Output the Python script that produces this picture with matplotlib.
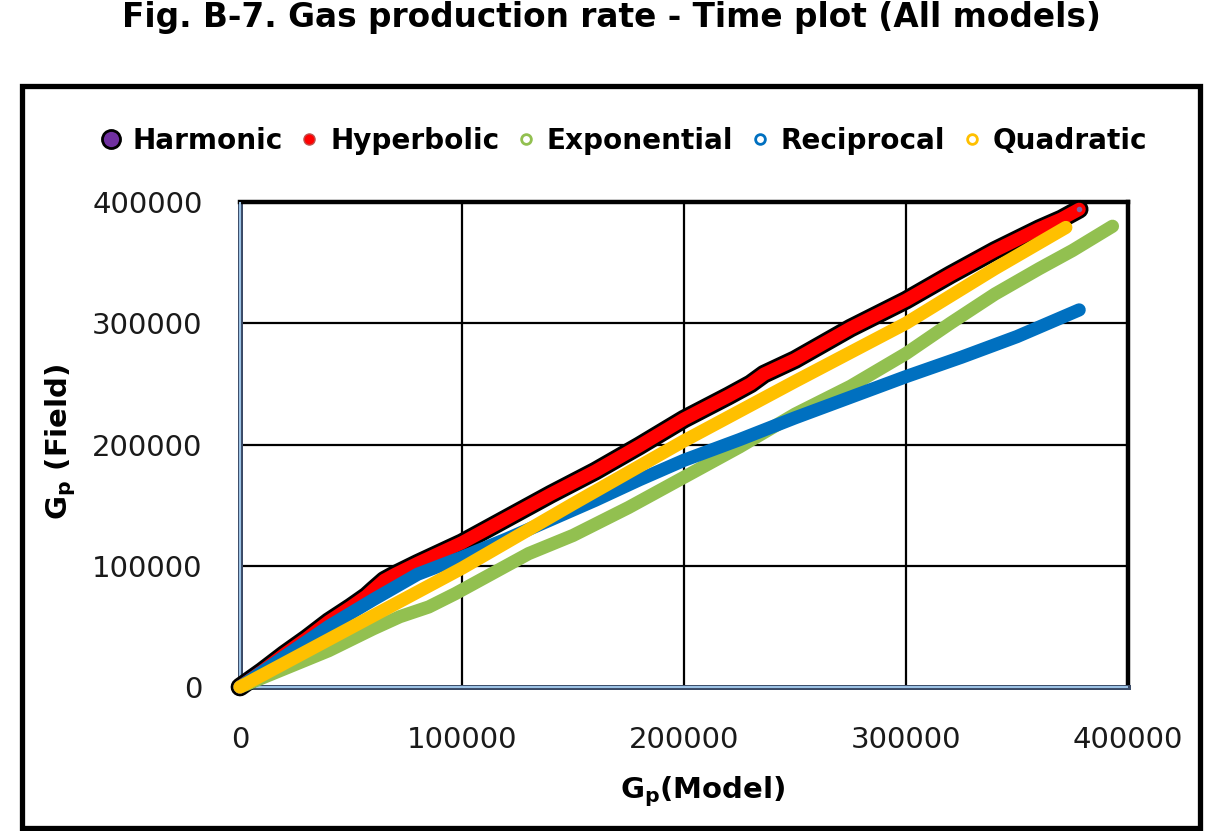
import matplotlib
matplotlib.use("Agg")
import matplotlib.pyplot as plt
from matplotlib.patches import Rectangle
from matplotlib.lines import Line2D
import numpy as np

# ---------------- data (thousands) ----------------
harm_x = [0, 10, 20, 30, 40, 50, 57, 60, 65, 70, 80, 100, 120, 140, 160, 180, 200, 220, 230, 236, 250, 275, 300, 320, 340, 350, 360, 370, 378]
harm_y = [0, 13, 27, 40, 54, 66, 75, 80, 88, 93, 102, 119, 139, 159, 178, 199, 221, 240, 250, 258, 270, 296, 319, 340, 360, 369, 378, 386, 394]
hyp_x = [0, 10, 20, 30, 40, 50, 57, 60, 65, 70, 80, 100, 120, 140, 160, 180, 200, 220, 230, 236, 250, 275, 300, 320, 340, 350, 360, 370, 378]
hyp_y = [0, 13, 27, 40, 54, 66, 75, 80, 88, 93, 102, 119, 139, 159, 178, 199, 221, 240, 250, 258, 270, 296, 319, 340, 360, 369, 378, 386, 394]
exp_x = [0, 20, 40, 60, 72, 85, 97, 110, 130, 150, 175, 200, 225, 250, 275, 300, 320, 340, 360, 375, 393]
exp_y = [0, 15, 30, 48, 58, 66, 77, 90, 110, 125, 148, 173, 198, 225, 248, 275, 300, 324, 345, 360, 380]
rec_x = [0, 20, 40, 60, 80, 100, 120, 140, 160, 180, 200, 225, 250, 275, 300, 325, 350, 378]
rec_y = [0, 25, 50, 72, 93, 107, 122, 138, 154, 171, 187, 204, 222, 239, 256, 272, 289, 311]
quad_x = [0, 50, 100, 150, 200, 250, 300, 340, 372]
quad_y = [0, 49, 98, 151, 203, 252, 300, 345, 379]

ticks = [0, 100000, 200000, 300000, 400000]
tick_labels = ["0", "100000", "200000", "300000", "400000"]
series_names = ["Harmonic", "Hyperbolic", "Exponential", "Reciprocal", "Quadratic"]

title = "Fig. B-7. Gas production rate - Time plot (All models)"

K = 1000.0
W, H = 1228, 831
fig = plt.figure(figsize=(W / 100, H / 100), dpi=100)
fig.patch.set_facecolor("white")

# outer chart box
fig.patches.append(Rectangle((22 / W, 1 - 828 / H), 1178 / W, (828 - 86) / H,
                             transform=fig.transFigure, fill=False,
                             edgecolor="black", linewidth=3.8, zorder=0))

ax = fig.add_axes([240 / W, 1 - 687 / H, 888 / W, 485 / H])
ax.set_xlim(0, 400000)
ax.set_ylim(0, 400000)
ax.set_xticks(ticks)
ax.set_yticks(ticks)
ax.set_xticklabels(tick_labels)
ax.set_yticklabels(tick_labels)
ax.tick_params(length=0, labelsize=21, pad=27)
ax.tick_params(axis="x", pad=28)
for lab in ax.get_xticklabels() + ax.get_yticklabels():
    lab.set_color("#1a1a1a")
ax.grid(True, color="black", linewidth=1.6, zorder=1)
ax.set_axisbelow(True)

for s in ["top", "right"]:
    ax.spines[s].set_linewidth(3.2)
    ax.spines[s].set_color("black")
for s in ["left", "bottom"]:
    ax.spines[s].set_linewidth(3.6)
    ax.spines[s].set_color("#3a4a66")
# light blue inner line on left/bottom axis
ax.plot([0, 0], [0, 400000], color="#9DC3E6", lw=1.5, clip_on=False, zorder=3, solid_capstyle="butt")
ax.plot([0, 400000], [0, 0], color="#9DC3E6", lw=1.5, clip_on=False, zorder=3, solid_capstyle="butt")

def arr(v):
    return np.array(v, dtype=float) * K

kw = dict(solid_capstyle="round", solid_joinstyle="round", clip_on=False)
ax.plot(arr(harm_x), arr(harm_y), color="black", lw=13.5, zorder=4, **kw)
ax.plot(arr(hyp_x), arr(hyp_y), color="#FF0000", lw=9.5, zorder=5, **kw)
ax.plot(arr(exp_x), arr(exp_y), color="#92C050", lw=9.5, zorder=4, **kw)
ax.plot(arr(rec_x), arr(rec_y), color="#0070C0", lw=9.5, zorder=6, **kw)
ax.plot(arr(quad_x), arr(quad_y), color="#FFC000", lw=9.5, zorder=7, **kw)
# marker dot at hyperbolic end
ax.plot([hyp_x[-1] * K], [hyp_y[-1] * K], "o", color="#8064A2", ms=3, zorder=8, clip_on=False)

# legend
handles = [
    Line2D([], [], ls="none", marker="o", ms=13, mfc="#7030A0", mec="black", mew=2),
    Line2D([], [], ls="none", marker="o", ms=8, mfc="#FF0000", mec="#C0504D", mew=1),
    Line2D([], [], ls="none", marker="o", ms=7, mfc="white", mec="#92C050", mew=2),
    Line2D([], [], ls="none", marker="o", ms=7, mfc="white", mec="#0070C0", mew=2),
    Line2D([], [], ls="none", marker="o", ms=7, mfc="white", mec="#FFC000", mew=2),
]
fig.legend(handles, series_names, loc="center", bbox_to_anchor=(625 / W, 1 - 141 / H),
           ncol=5, frameon=False, prop={"weight": "bold", "size": 20.1},
           handlelength=0.6, handletextpad=0.45, columnspacing=0.65, borderaxespad=0)

# title
fig.text(612 / W, 1 - 27 / H, title, ha="center", va="baseline",
         fontsize=23.6, fontweight="bold", color="black")

# axis labels
fig.text(703 / W, 1 - 792 / H, r"G$_\mathbf{p}$(Model)", ha="center", va="center",
         fontsize=21, fontweight="bold")
fig.text(61 / W, 1 - 442 / H, r"G$_\mathbf{p}$ (Field)", ha="center", va="center",
         fontsize=21, fontweight="bold", rotation=90)

fig.savefig("out.png", dpi=100, facecolor="white")
